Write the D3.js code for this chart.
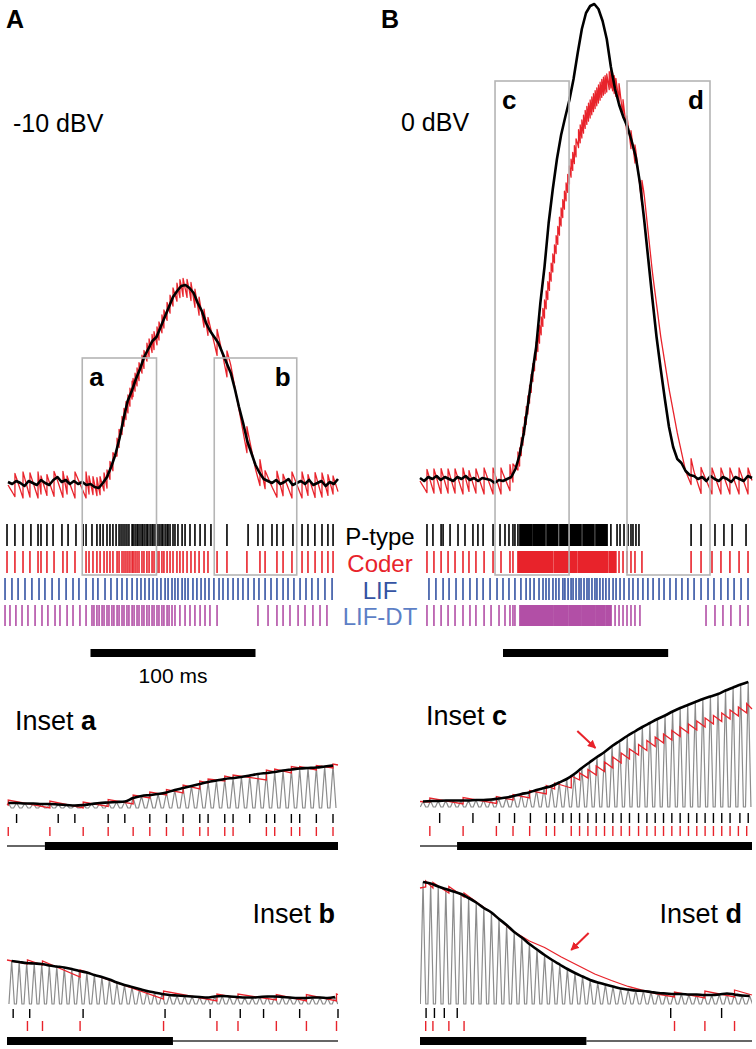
<!DOCTYPE html>
<html>
<head>
<meta charset="utf-8">
<script src="https://cdn.jsdelivr.net/npm/d3@7"></script>
<style>
body { margin: 0; background: #fff; }
svg text { font-family: "Liberation Sans", Arial, sans-serif; }
</style>
</head>
<body>
<svg id="fig" width="756" height="1049"></svg>
<script>
//***************************************************************************
// Main traces (rate in a.u.), black sampled every 2.5 ms, coder envelope every 5 ms

var sampleMs = d3.range(0, 200.1, 2.5);
var coarseMs = d3.range(0, 200.1, 5);

var blackA = [0.5,-0.5,1,0,-1.5,1,0,-1,1.5,0,-1,1.5,3,0.5,1.5,-0.5,1,-0.5,0.5,-1,
  -0.5,-2,-2.5,0,3,8,14,22,32,41,46,52,57,63,67,71,73,78,83,88,
  93,96,98.5,99,97.5,95,90,86,80,76,73,70,65,60,55,47,38,30,21,15,
  9,5,2,1,0,1.5,-0.5,0.5,2,-1,0,1,-0.5,1.5,-1,0,1,-1.5,0.5,-0.5,2];

var blackB = [0.5,-1,1,0,1.5,-0.5,1,0,-1,1,0,1.5,-0.5,0.5,-1,0.5,0,-0.5,-2,-0.5,
  -1,0,1,5,12,23,37,52,66,88,106,128,145,160,172,181,189.5,200,213,225,
  233,236.5,237.5,235,229,220,206,195,187,181,176,169,161,148,130,110,90,71,55,40,
  26,16,10,8,4,2,1.5,0,1,-1,1.5,0,-1,1,0,-1.5,1,0,-1,1.5,0.5];

var coderEnvA = [-1,-1,-1,-1,-1,-1,0,-1,-1,-1,-1,-2,2,14,32,46,57,67,73,83,
  93,98,97,90,80,73,65,55,38,21,9,2,0,-1,-1,-1,-1,-1,-1,-1,-1];

var coderEnvB = [-1,-1,-1,-1,-1,-1,-1,-1,-1,-1,-1,1,11,37,64,85,108,131,152,169,
  181,189,196,200,193,176,161,137,100,70,46,26,9,1,-1,-1,-1,-1,-1,-1,-1];

//***************************************************************************
// Spike times (ms); runs = one spike per carrier cycle (1 ms)

var ptypeA = [-0.6,4.2,9.1,13.9,18.2,20,23.6,27.3,32.7,36.4,41.2,45.5,47.3,50.9,53.9,55.8,57.6,60,61.8,63.6,
  65.5,67.3,68.5,69.7,70.9,72.1,73.3,75.2,75.8,77,78.2,78.8,80,81.2,81.8,83,84.2,84.8,86.1,87.3,
  87.9,89.1,90.3,90.9,92.1,93.3,93.9,95.2,96.4,97,98.2,100,101.2,103,105.5,107.3,110.3,113.3,116.4,119.4,
  123,132.7,145.5,151.5,154.5,160,163,166.7,172.7,178.2,181.8,186,190.3,193.9,197];

var coderA = [-0.6,4.2,9.1,13.3,18.2,20,23.6,27.9,33.3,35.8,40.6,47.3,49.1,51.5,53.9,55.8,58.2,60,61.8,63.6,
  66.1,67.3,69.1,70.3,71.5,72.7,73.9,75.2,75.8,77,78.2,79.4,81.2,82.4,84.2,85.5,87.3,88.5,90.3,91.5,
  93.3,94.5,96.4,98.2,100,102.4,104.2,106.1,108.5,110.9,113.3,115.8,118.8,121.2,126.7,132.7,144.8,152.7,155.8,163,
  166.7,172.1,178.2,181.8,186.1,190.3,193.9,197];

var lifA = [-1.8,2.4,6.1,10.3,14.5,18.8,22.4,26.7,30.9,35.2,39.4,43,47.3,51.5,54.5,58.8,62.4,66.1,69.1,72.1,
  75.2,78.2,80.6,83,85.5,87.9,90.3,92.7,95.2,97,99.4,101.2,103,105.5,107.3,109.1,112.1,114.5,117,119.4,
  121.8,124.8,127.9,130.3,133.3,136.4,139.4,142.4,145.5,149.1,152.1,155.8,159.4,163,166.7,169.7,173.3,177,180.6,184.2,
  187.9,192.1,196.4];

var lifdtA = [-1.8,1.2,4.8,8.5,12.1,16.4,20.6,24.2,28.5,31.5,35.8,39.4,43.6,47.3,50.9,52.1,53.9,55.2,57,58.2,
  60,61.2,63,64.2,66.1,67.3,69.1,70.3,72.1,73.3,75.2,76.4,78.2,79.4,81.2,82.4,84.2,85.5,87.3,88.5,
  90.3,91.5,93.3,94.5,96.4,97.6,99.4,101.2,104.2,107.3,110.3,113.3,116.4,119.4,122.4,126.7,151.5,157.6,163,166.7,
  170.9,175.8,180,184.8,189.1,193.3];

var ptypeB = [4.2,7.8,12.7,13.9,18.1,22.9,27.1,31.9,34.9,38,44,48.2,51.2,53.6,56,57.2,59,
  115,118.7,120.5,122.9,125.3,127.1,128.3,130.1,131.9,163.3,169.3,177.7,183.1,188,196.4];
var ptypeBRuns = [[60.2,67.5],[68.5,75.3],[76.5,83],[84.3,97],[98.2,104.8],[106,112.7]];

var coderB = [4.2,8.4,12.7,16.9,21.1,25.9,29.5,33.7,38.6,44,48.8,54.2,56,
  119.9,122.3,124.7,127.1,129.5,133.7,163.3,169.3,175.9,181.3,186.7,192.2,197.6];
var coderBRuns = [[59,80],[81,94.5],[95.5,113],[114,118]];

var lifB = [5.4,9.6,13.9,17.5,21.7,25.9,30.1,34.3,38,42.2,46.4,50,53.6,57.2,60.8,63.9,66.3,68.7,71.7,74.1,
  75.9,77.7,80.1,81.9,83.7,86.1,87.3,89.2,91,92.2,94,95.8,97,98.8,100.6,101.8,103.6,105.4,106.6,108.4,
  110.2,112,113.9,116.3,118.1,120.5,122.9,125.9,128.3,131.3,134.3,137.3,140.4,144,147,150.6,154.2,157.8,161.4,165.1,
  169.3,173.5,177.1,181.3,185.5,189.2,193.4,197.6];

var lifdtB = [4.2,8.4,12.7,16.9,21.1,25.9,30.1,33.7,38.6,42.8,47.6,51.2,54.2,56,57.2,
  117.5,119.9,122.3,124.7,127.1,129.5,132.5,172.3,177.7,182.5,187.3,192.8,197.6];
var lifdtBRuns = [[60.2,80.2],[81.2,88.7],[89.7,96.5],[97.5,105.5],[106.5,111.5],[112.5,115.1]];

var rasterNames = ["P-type", "Coder", "LIF", "LIF-DT"];
var boxesA = [[45, 90], [125, 175]];
var boxesB = [[45.2, 89.8], [124.7, 174.7]];
var boxTopA = 62.5, boxTopB = 199;
var scaleBarA = [50, 150], scaleBarB = [50, 149.5];

//***************************************************************************
// Insets: carrier peak amplitude per cycle (px units), spikes in cycles

var ampInsetA = [5,5,4.5,4.5,4,4,3.5,3,2.5,3,4,5,5.5,6,6.5,10,12,13,14,15.5,
  18,20,22,24,26,27.5,29,30,31,32.5,34,35,36,37.5,38.5,39.5,40,40.5,41.5,42.5];
var blackSpkInsetA = [1,6,8,12,14,17,19,21,23,24,26,27,29,31,32,34,35,37,39];
var redSpkInsetA = [0,5,9,12,15,17,19,21,23,24,26,27,31,32,34,35,37,39];
var redTopInsetA = [8,7,6,8.5,13,16,18.5,23,27,29,32,33,38,39,41.5,41.5,42.5,44];
var redLowInsetA = [3,0,0,1.5,4,10,13,15,19,25,27,30,28,36,35,40,38,40];
var redEndsInsetA = [4, 43];

var ampInsetB = [43,42,41,40.5,40,38.5,37.5,36.5,35,33,31.5,29,27,24.5,21.5,19,17,15,13,11.5,
  10,9,8.5,8,7.5,7,6.5,7.5,8,7.5,7,6.5,6.5,7,7.5,7.5,7,6.5,6,6,6.5,6.5,6,7];
var blackSpkInsetB = [0.2,2.4,9.5,20.4,26.4,30.4,33.5,38.3,43.4];
var redSpkInsetB = [2.1,4.1,9.1,20.2,27.3,30.1,35.2,39.2,43.2];
var redTopInsetB = [44,43,34,13,10,10,9.5,9.5,10];
var redLowInsetB = [40,39,27,5,3,6,4,3,3];
var redEndsInsetB = [44, 9.5];

var ampInsetC = [5.5,6,6,6.5,6.5,6.5,6.5,7,7,7.5,8.5,9.5,11,13,14.5,17,19,21,24.5,28,
  33,39,44.5,50,55,61,66,71,75.5,80,84,88,91.5,95.5,99,102,105,108,110.5,113,116.5,119.5,122.5,125];
var blackSpkInsetC = [2.2,6.6,10.1,12.1,14.2,16.3,17.4,18.5,19.6,20.7,21.8,22.9,24,25.1,26.2,27.3,28.5,29.6,30.7,31.8,
  32.9,34,35.1,36.2,37.3,38.4,39.5,40.6,41.9,43];
var redSpkInsetC = [0.9,5.3,9.7,11.9,14.1,16.3,17.4,19.6,20.7,21.8,22.9,24,25.1,26.2,27.3,28.5,29.6,30.7,31.8,32.9,
  34,35.1,36.2,37.3,38.4,39.5,40.6,41.7,42.8];
var redTopInsetC = [9,9.5,10.5,12.5,16.5,21.5,24,31,34,37.5,41,45,50,54,58,62.5,66.5,70,73,76.5,
  80,83,86,89,91.5,94,97,100,103.5];
var redLowInsetC = [5,3,3.5,7,9,13,18,19,27,29,32,35.5,39,44,48,52,56.5,60.5,64,67,
  70.5,74,77,80,83,85.5,88,91,94];
var redEndsInsetC = [5.5, 98];

var ampInsetD = [122,120.5,117.5,115,112.5,110,106,101.5,96,91.5,85,79,72,66.5,60,54.5,49,44,39.5,35,
  31,27.5,24,21.5,19.5,17.5,15.5,14.5,13.5,13,12,11,10.5,10,10,9.5,9.5,9,9,9.5,10.5,9.5,8.5,8];
var blackSpkInsetD = [0.4,1.5,2.8,4.5,32.6,39.3];
var redSpkInsetD = [0.35,1.3,3.4,5.4,33.1,37.1,41];
var redTopInsetD = [123,121.5,117.5,111,12,13,14];
var redLowInsetD = [117,116,111,107,7,6,7];
var redEndsInsetD = [116, 9];
var redDecayInsetD = [[7.2,101],[9.4,89],[11.6,74],[14,63],[16,56.5],[18.2,47],[20.4,38.5],
  [22.6,30],[24.8,23.5],[27,17.5],[29.2,13],[31.2,9.5]];

var arrowInsetC = [[20.4, 76], [22.8, 59]];
var arrowInsetD = [[21.8, 71], [19.5, 54]];

//***************************************************************************

var RED = "#e8232b", BLUE = "#3453a3", MAGENTA = "#b24fa6", LIFDT_TXT = "#5d7fc6";
var svg = d3.select("#fig");

svg.append("defs").append("marker")
  .attr("id", "arr").attr("viewBox", "0 0 10 10")
  .attr("refX", 9).attr("refY", 5)
  .attr("markerWidth", 4.2).attr("markerHeight", 4.2)
  .attr("orient", "auto")
  .append("path").attr("d", "M0,0L10,5L0,10z").attr("fill", RED);

function label(x, y, s, size, opt) {
  opt = opt || {};
  return svg.append("text")
    .attr("x", x).attr("y", y)
    .attr("font-size", size)
    .attr("font-weight", opt.bold ? "bold" : "normal")
    .attr("fill", opt.color || "#000")
    .attr("text-anchor", opt.anchor || "start")
    .text(s);
}

function allSpikes(singles, runs) {
  var out = singles.slice();
  (runs || []).forEach(function(r) {
    out = out.concat(d3.range(r[0], r[1] + 0.001, 1));
  });
  return out.sort(d3.ascending);
}

// coder reconstruction: jump at each coder spike, decay until the next one
function sawtooth(spikes, env) {
  var s = spikes.filter(function(t) { return t >= 0 && t <= 200; });
  var half = s.map(function(t, i) {
    var isi = i ? t - s[i - 1] : 4;
    return Math.min(6.5, Math.max(4.5, 1.45 * isi));
  });
  var pts = [];
  var t0 = 0, off0 = 0;
  function segment(a, oa, b, ob) {
    var n = Math.max(1, Math.ceil((b - a) / 0.5));
    for (var k = (pts.length ? 1 : 0); k <= n; k++) {
      var t = a + (b - a) * k / n;
      pts.push([t, env(t) + oa + (ob - oa) * k / n]);
    }
  }
  s.forEach(function(t, i) {
    segment(t0, off0, t, -half[i]);
    pts.push([t, env(t) + half[i]]);
    t0 = t; off0 = half[i];
  });
  segment(t0, off0, 200, Math.max(-6, off0 - 2.6 * (200 - t0)));
  return pts;
}

//***************************************************************************
// Main panels

var rowY = [[524, 546], [551, 573], [578, 600], [605, 626]];

function mainPanel(o) {
  var x = d3.scaleLinear().domain([0, 200]).range(o.xr);
  var y = d3.scaleLinear().domain([0, 100]).range([o.y0, o.y0 - 200]);
  var g = svg.append("g");
  var env = d3.scaleLinear().domain(coarseMs).range(o.coderEnv).clamp(true);
  var line = d3.line().x(function(d) { return x(d[0]); }).y(function(d) { return y(d[1]); });

  g.append("path")
    .attr("d", line(sawtooth(allSpikes(o.coder, o.coderRuns), env)))
    .attr("fill", "none").attr("stroke", RED).attr("stroke-width", 1.3)
    .attr("stroke-linejoin", "round");

  g.append("path")
    .attr("d", line(o.black.map(function(v, i) { return [sampleMs[i], v]; })))
    .attr("fill", "none").attr("stroke", "#000").attr("stroke-width", 2.6)
    .attr("stroke-linejoin", "round");

  var rows = [
    { sp: o.ptype, runs: o.ptypeRuns, color: "#000" },
    { sp: o.coder, runs: o.coderRuns, color: RED },
    { sp: o.lif, runs: [], color: BLUE },
    { sp: o.lifdt, runs: o.lifdtRuns, color: MAGENTA }
  ];
  rows.forEach(function(r, k) {
    g.selectAll(null).data(r.sp).enter().append("line")
      .attr("x1", function(d) { return x(d); }).attr("x2", function(d) { return x(d); })
      .attr("y1", rowY[k][0]).attr("y2", rowY[k][1])
      .attr("stroke", r.color).attr("stroke-width", 1.6);
    g.selectAll(null).data(r.runs || []).enter().append("rect")
      .attr("x", function(d) { return x(d[0]) - 0.8; })
      .attr("width", function(d) { return x(d[1]) - x(d[0]) + 1.6; })
      .attr("y", rowY[k][0]).attr("height", rowY[k][1] - rowY[k][0])
      .attr("fill", r.color);
  });

  o.boxes.forEach(function(b, i) {
    g.append("rect")
      .attr("x", x(b[0])).attr("y", y(o.boxTop))
      .attr("width", x(b[1]) - x(b[0])).attr("height", 575 - y(o.boxTop))
      .attr("fill", "none").attr("stroke", "#b5b5b5").attr("stroke-width", 1.6);
    if (i === 0) label(x(b[0]) + 7, y(o.boxTop) + 28, o.boxNames[i], 26, { bold: true });
    else label(x(b[1]) - 6, y(o.boxTop) + 28, o.boxNames[i], 26, { bold: true, anchor: "end" });
  });

  g.append("rect")
    .attr("x", x(o.bar[0])).attr("y", 649)
    .attr("width", x(o.bar[1]) - x(o.bar[0])).attr("height", 8)
    .attr("fill", "#000");
  return x;
}

var xA = mainPanel({ xr: [8, 338], y0: 483, black: blackA, coderEnv: coderEnvA,
  ptype: ptypeA, coder: coderA, lif: lifA, lifdt: lifdtA,
  boxes: boxesA, boxTop: boxTopA, boxNames: ["a", "b"], bar: scaleBarA });
mainPanel({ xr: [420, 752], y0: 479, black: blackB, coderEnv: coderEnvB,
  ptype: ptypeB, ptypeRuns: ptypeBRuns, coder: coderB, coderRuns: coderBRuns,
  lif: lifB, lifdt: lifdtB, lifdtRuns: lifdtBRuns,
  boxes: boxesB, boxTop: boxTopB, boxNames: ["c", "d"], bar: scaleBarB });

label(6, 28, "A", 25, { bold: true });
label(381, 28, "B", 25, { bold: true });
label(13, 132, "-10 dBV", 25);
label(401, 131, "0 dBV", 25);
label(xA(100), 683, "100 ms", 21, { anchor: "middle" });

var nameColors = ["#000", RED, BLUE, LIFDT_TXT];
rasterNames.forEach(function(n, k) {
  label(380, rowY[k][1] - 1, n, 24, { anchor: "middle", color: nameColors[k] });
});

//***************************************************************************
// Insets

function inset(o) {
  var x = d3.scaleLinear().domain(o.dom).range(o.xr);
  var y = function(v) { return o.y0 - v; };
  var id = "clip" + o.name;
  svg.append("clipPath").attr("id", id).append("rect")
    .attr("x", o.xr[0]).attr("y", o.y0 - 140).attr("width", o.xr[1] - o.xr[0]).attr("height", 150);
  var g = svg.append("g");
  var line = d3.line().x(function(d) { return x(d[0]); }).y(function(d) { return y(d[1]); });

  // carrier: one narrow peak per cycle
  var carrier = [];
  o.amp.forEach(function(a, i) { carrier.push([i - 0.36, 0], [i, a], [i + 0.36, 0]); });
  g.append("path").attr("d", line(carrier)).attr("clip-path", "url(#" + id + ")")
    .attr("fill", "none").attr("stroke", "#8c8c8c").attr("stroke-width", 1.2)
    .attr("stroke-linejoin", "round");

  var red = [[o.dom[0], o.redEnds[0]]];
  o.redSpk.forEach(function(s, i) { red.push([s, o.redLow[i]], [s, o.redTop[i]]); });
  red = red.concat(o.redDecay || []);
  red.push([o.dom[1], o.redEnds[1]]);
  red.sort(function(a, b) { return a[0] - b[0]; });
  g.append("path").attr("d", line(red))
    .attr("fill", "none").attr("stroke", RED).attr("stroke-width", 1.3);

  g.append("path")
    .attr("d", line.curve(d3.curveMonotoneX)(o.amp.map(function(a, i) { return [i, a]; })))
    .attr("fill", "none").attr("stroke", "#000").attr("stroke-width", 2.6);
  line.curve(d3.curveLinear);

  [[o.blackSpk, "#000", o.tickY[0]], [o.redSpk, RED, o.tickY[1]]].forEach(function(r) {
    g.selectAll(null).data(r[0]).enter().append("line")
      .attr("x1", function(d) { return x(d); }).attr("x2", function(d) { return x(d); })
      .attr("y1", r[2][0]).attr("y2", r[2][1])
      .attr("stroke", r[1]).attr("stroke-width", 1.4);
  });

  var thin = o.thickFirst ? [o.bar[1], o.bar[2]] : [o.bar[0], o.bar[1]];
  var thick = o.thickFirst ? [o.bar[0], o.bar[1]] : [o.bar[1], o.bar[2]];
  g.append("line")
    .attr("x1", x(thin[0])).attr("x2", x(thin[1]))
    .attr("y1", o.barY + 4).attr("y2", o.barY + 4)
    .attr("stroke", "#333").attr("stroke-width", 1.4);
  g.append("rect")
    .attr("x", x(thick[0])).attr("width", x(thick[1]) - x(thick[0]))
    .attr("y", o.barY).attr("height", 8).attr("fill", "#000");

  if (o.arrow) {
    g.append("line")
      .attr("x1", x(o.arrow[0][0])).attr("y1", y(o.arrow[0][1]))
      .attr("x2", x(o.arrow[1][0])).attr("y2", y(o.arrow[1][1]))
      .attr("stroke", RED).attr("stroke-width", 2).attr("marker-end", "url(#arr)");
  }

  var t = svg.append("text")
    .attr("x", o.label[0]).attr("y", o.label[1])
    .attr("font-size", 27).attr("text-anchor", o.label[2]);
  t.append("tspan").text("Inset ");
  t.append("tspan").attr("font-weight", "bold").text(o.name);
}

inset({ name: "a", dom: [-0.15, 39.6], xr: [7, 338], y0: 808,
  amp: ampInsetA, blackSpk: blackSpkInsetA, redSpk: redSpkInsetA,
  redTop: redTopInsetA, redLow: redLowInsetA, redEnds: redEndsInsetA,
  tickY: [[814, 823], [827, 836]], bar: [-0.15, 4.4, 39.6], thickFirst: false, barY: 842,
  label: [15, 730, "start"] });

inset({ name: "c", dom: [-0.4, 43.5], xr: [420, 752], y0: 807,
  amp: ampInsetC, blackSpk: blackSpkInsetC, redSpk: redSpkInsetC,
  redTop: redTopInsetC, redLow: redLowInsetC, redEnds: redEndsInsetC,
  tickY: [[813, 823], [826, 836]], bar: [-0.4, 4.5, 43.5], thickFirst: false, barY: 842,
  arrow: arrowInsetC, label: [426, 725, "start"] });

inset({ name: "b", dom: [-0.62, 43.4], xr: [7, 338], y0: 1004,
  amp: ampInsetB, blackSpk: blackSpkInsetB, redSpk: redSpkInsetB,
  redTop: redTopInsetB, redLow: redLowInsetB, redEnds: redEndsInsetB,
  tickY: [[1009, 1018], [1021, 1031]], bar: [-0.62, 21.45, 43.4], thickFirst: true, barY: 1037,
  label: [335, 923, "end"] });

inset({ name: "d", dom: [-0.4, 43.3], xr: [420, 752], y0: 1004,
  amp: ampInsetD, blackSpk: blackSpkInsetD, redSpk: redSpkInsetD,
  redTop: redTopInsetD, redLow: redLowInsetD, redEnds: redEndsInsetD, redDecay: redDecayInsetD,
  tickY: [[1008, 1018], [1021, 1031]], bar: [-0.4, 21.5, 43.3], thickFirst: true, barY: 1037,
  arrow: arrowInsetD, label: [742, 923, "end"] });
</script>
</body>
</html>
